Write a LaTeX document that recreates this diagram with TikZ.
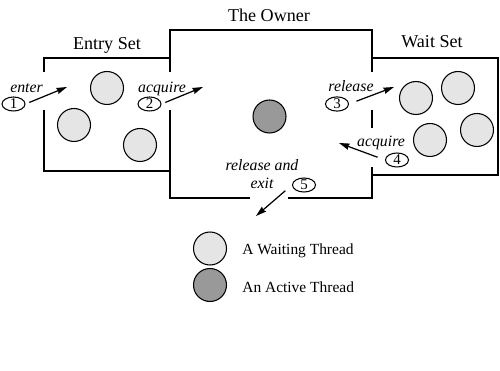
\documentclass[tikz,border=0pt]{standalone}
\usepackage{fontspec}
\setmainfont{Liberation Serif}
\usetikzlibrary{shapes.geometric,arrows.meta}
\tikzset{wt/.style={draw,circle,minimum size=0.66cm,inner sep=0pt,line width=0.6pt,fill=black!10},
 act/.style={wt,fill=black!40},
 num/.style={draw,ellipse,minimum width=0.46cm,minimum height=0.28cm,inner sep=0pt,line width=0.6pt,font=\fontsize{8.5}{9}\selectfont},
 ttl/.style={anchor=base,inner sep=0pt,font=\fontsize{10.3}{12}\selectfont},
 lb/.style={anchor=base,inner sep=0pt,font=\fontsize{9}{10}\selectfont\itshape},
 lg/.style={anchor=base west,inner sep=0pt,font=\fontsize{8.8}{10}\selectfont},
 wall/.style={line width=1.1pt},
 ar/.style={-{Stealth[length=6pt,width=3.6pt,inset=0.6pt]},line width=0.7pt}}

\begin{document}
\begin{tikzpicture}[x=0.02cm,y=-0.02cm]
\useasboundingbox (0,0) rectangle (500,371);
% walls of the three rooms
\draw[wall](44,72)--(44,58)--(170,58)--(170,72);\draw[wall](44,110)--(44,171)--(170,171);
\draw[wall](170,72)--(170,30)--(372,30)--(372,72);\draw[wall](170,110)--(170,198)--(250,198);
\draw[wall](288,198)--(372,198)--(372,167);\draw[wall](372,110)--(372,128);
\draw[wall](372,58)--(498,58)--(498,175)--(372,175);
\node[ttl](tOwner) at (269,22){The Owner};\node[ttl](tEntry) at (107,50){Entry Set};\node[ttl](tWait) at (432,48){Wait Set};
% threads
\node[wt](e1) at (107,88){};\node[wt](e2) at (74,125){};\node[wt](e3) at (140,145){};
\node[act](o1) at (269.5,116.5){};
\node[wt](w1) at (416,98){};\node[wt](w2) at (458,88){};\node[wt](w3) at (430,140){};\node[wt](w4) at (477,130){};
% transitions
\node[num](n1) at (13.5,104){1};\node[lb](l1) at (26.5,93){enter};
\node[num](n2) at (149.5,104){2};\node[lb](l2) at (162,93){acquire};
\node[num](n3) at (337,104){3};\node[lb](l3) at (351,92){release};
\node[num](n4) at (397,160){4};\node[lb](l4) at (381,147){acquire};
\node[num](n5) at (304,185){5};\node[lb](l5a) at (262,171){release and};\node[lb](l5b) at (262,189){exit};
\coordinate(c1) at (67,87);\coordinate(c2) at (203,87);\coordinate(c3) at (394,87);
\coordinate(c4) at (339,143);\coordinate(c5) at (256,216);
\draw[ar,shorten <=2.3pt](n1.east)--(c1);\draw[ar,shorten <=2.3pt](n2.east)--(c2);
\draw[ar,shorten <=4.5pt](n3.east)--(c3);\draw[ar,shorten <=4.5pt](n4.west)--(c4);
\draw[ar,shorten <=5pt](n5.west)--(c5);
% legend
\node[wt](k1) at (210,248.5){};\node[lg](k1t) at (242,255){A Waiting Thread};
\node[act](k2) at (210,285){};\node[lg](k2t) at (242,292){An Active Thread};
\end{tikzpicture}
\end{document}
